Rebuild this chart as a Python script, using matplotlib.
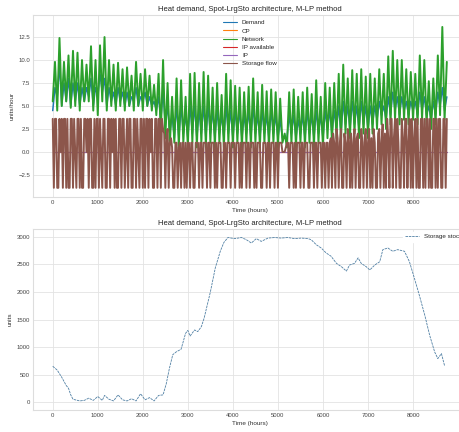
import numpy as np
import matplotlib
matplotlib.use("Agg")
import matplotlib.pyplot as plt
from matplotlib.ticker import FixedLocator
import seaborn as sns

# demand and network, read every 50 hours (0 .. 8750)
demand = [
    4.5, 7.0, 6.0, 9.5, 5.0, 7.5, 5.5, 8.0, 5.0, 7.5,
    5.5, 7.5, 5.0, 7.0, 5.5, 7.0, 6.0, 8.0, 5.0, 7.0,
    6.0, 8.5, 6.5, 8.0, 5.0, 7.0, 5.5, 6.5, 5.0, 7.0,
    5.5, 6.5, 5.0, 6.5, 5.0, 6.0, 5.5, 7.0, 5.0, 6.0,
    5.5, 6.5, 5.0, 6.0, 5.0, 5.5, 4.5, 6.0, 3.5, 6.5,
    3.0, 5.0, 2.0, 4.0, 1.5, 5.0, 1.5, 5.0, 2.0, 4.0,
    1.5, 5.0, 2.0, 5.0, 1.5, 4.5, 2.0, 5.0, 1.5, 5.0,
    2.0, 4.5, 1.5, 4.5, 2.0, 4.0, 1.5, 5.0, 2.0, 4.5,
    1.5, 4.5, 2.0, 4.5, 1.5, 4.0, 2.0, 4.5, 1.5, 5.0,
    2.0, 4.0, 1.5, 4.5, 2.0, 4.0, 1.5, 4.5, 2.0, 4.0,
    1.5, 3.5, 1.5, 1.5, 1.5, 4.0, 2.0, 4.0, 1.5, 3.5,
    2.0, 4.0, 1.5, 4.5, 2.0, 4.0, 1.5, 4.5, 2.0, 4.0,
    1.5, 4.5, 2.5, 4.5, 2.0, 4.5, 2.5, 5.0, 2.0, 5.5,
    3.0, 5.0, 2.5, 5.5, 3.0, 5.0, 2.5, 5.5, 3.0, 5.0,
    2.5, 5.0, 3.0, 5.0, 3.5, 5.5, 4.0, 5.0, 3.5, 6.0,
    4.0, 6.5, 4.5, 6.0, 4.0, 6.0, 4.5, 5.5, 4.0, 5.5,
    4.5, 5.5, 4.0, 6.5, 4.5, 6.0, 4.0, 5.0, 3.5, 5.5,
    4.0, 6.5, 5.0, 7.0, 4.5, 6.0,
]

network = [
    5.5, 9.8, 4.5, 12.4, 5.0, 9.8, 5.5, 10.5, 4.8, 11.0,
    5.0, 10.8, 4.5, 10.0, 5.5, 9.5, 5.5, 11.5, 4.5, 10.0,
    4.0, 11.6, 5.5, 12.5, 4.5, 10.0, 5.0, 9.5, 4.5, 9.7,
    5.0, 9.0, 4.5, 9.2, 5.0, 8.3, 4.5, 9.8, 5.0, 8.5,
    4.5, 9.0, 5.0, 8.3, 4.5, 7.3, 4.0, 8.5, 2.0, 10.0,
    1.5, 7.5, 0.8, 6.0, 1.0, 8.0, 0.5, 7.8, 1.0, 6.0,
    0.5, 8.5, 1.0, 8.6, 0.5, 7.5, 1.0, 8.7, 0.5, 8.3,
    1.0, 7.0, 0.5, 7.5, 1.0, 6.2, 0.5, 8.5, 1.0, 7.8,
    0.5, 7.2, 1.0, 7.0, 0.5, 6.5, 1.0, 7.1, 0.5, 8.0,
    1.0, 6.5, 0.5, 7.3, 1.0, 6.6, 0.5, 6.8, 1.0, 6.5,
    0.5, 5.8, 1.0, 2.0, 0.5, 6.5, 1.0, 6.8, 0.5, 6.0,
    1.0, 6.5, 0.5, 7.0, 1.0, 6.3, 0.5, 7.8, 1.0, 6.0,
    0.5, 7.5, 1.5, 7.0, 1.0, 7.5, 1.5, 8.5, 1.0, 9.5,
    2.0, 8.0, 1.5, 8.9, 2.0, 8.5, 1.5, 9.0, 2.0, 8.2,
    1.5, 8.5, 2.0, 8.0, 2.5, 9.0, 3.0, 8.5, 2.5, 10.4,
    3.0, 11.0, 3.5, 10.0, 3.0, 10.0, 3.5, 9.0, 3.0, 8.7,
    3.5, 8.5, 3.0, 10.5, 3.5, 10.0, 3.0, 7.7, 2.5, 8.0,
    3.0, 10.5, 4.0, 13.6, 3.5, 9.8,
]

# storage flow, read every 25 hours (0 .. 8750)
storage_flow = [
    3.6, -3.9, 3.6, 3.6, -3.9, -3.9, 3.6, 0.0, 3.6, -3.9, 3.6, 3.6, -3.9, 3.6, -3.9, -3.9, 3.6, 3.6, -3.9, 3.6,
    0.0, -3.9, 3.6, 3.6, -3.9, 3.6, -3.9, -3.9, 3.6, 3.6, 0.0, 3.6, -3.9, 3.6, 3.6, -3.9, -3.9, 3.6, -3.9, 3.6,
    3.6, -3.9, 3.6, 0.0, -3.9, 3.6, 3.6, -3.9, -3.9, 3.6, 3.6, -3.9, 3.6, 0.0, 3.6, -3.9, 3.6, -3.9, -3.9, 3.6,
    3.6, -3.9, 3.6, 3.6, -3.9, 0.0, 3.6, -3.9, 3.6, 3.6, -3.9, -3.9, 3.6, 3.6, -3.9, 3.6, 0.0, -3.9, 3.6, 3.6,
    -3.9, 3.6, -3.9, 3.6, 3.6, -3.9, 3.6, 0.0, 3.6, -3.9, -3.9, 3.6, 3.6, -3.9, 3.6, 3.6, -3.9, 3.6, 2.5, 2.0,
    -3.9, 1.5, 2.5, -3.9, 1.0, 1.5, 0.5, -3.9, -3.9, 1.0, 1.0, -3.9, 0.5, 1.0, -3.9, 1.0, 1.0, -3.9, 1.0, -3.9,
    1.0, 1.0, -3.9, 1.0, 1.0, -3.9, -3.9, 1.0, 1.0, 1.0, -3.9, 1.0, 1.0, -3.9, 1.0, 1.0, 1.0, -3.9, 1.0, 1.0,
    -3.9, 1.0, 1.0, 1.0, -3.9, 1.0, -3.9, 1.0, 1.0, 1.0, -3.9, -3.9, 1.0, 1.0, -3.9, 1.0, 1.0, 1.0, -3.9, 1.0,
    1.0, 1.0, -3.9, 1.0, 1.0, 1.0, -3.9, 1.0, -3.9, 1.0, 1.0, 1.0, -3.9, 1.0, 1.0, -3.9, 1.0, 1.0, 1.0, -3.9,
    1.0, -3.9, 1.0, 1.0, 1.0, -3.9, -3.9, 1.0, 1.0, 1.0, -3.9, 1.0, 1.0, -3.9, 1.0, 1.0, 1.0, -3.9, 1.0, 1.0,
    -3.9, 1.0, 1.0, 1.0, 0.0, 0.0, 0.0, 0.5, 1.0, 1.0, -3.9, 1.0, 1.0, 1.0, -3.9, 1.0, -3.9, 1.0, 1.0, 1.0,
    -3.9, 1.0, 1.0, -3.9, 1.0, 1.0, 1.0, -3.9, -3.9, 1.0, 1.0, 1.0, -3.9, 1.0, 1.0, -3.9, 1.0, 1.0, 1.0, -3.9,
    1.0, 1.0, -3.9, 1.0, 1.0, -3.9, 1.0, 1.5, -3.9, 2.0, 1.0, -3.9, 2.5, 1.5, -3.9, 1.0, 2.5, -3.9, -3.9, 2.0,
    1.0, -3.9, 2.5, 1.5, -3.9, 2.0, -3.9, 1.0, 2.5, -3.9, 1.5, 2.0, -3.9, -3.9, 2.5, 1.0, -3.9, 1.5, 2.5, -3.9,
    1.0, 2.5, -3.9, 1.5, -3.9, 2.5, 1.0, -3.9, -3.9, 2.0, 2.5, -3.9, 1.0, 3.0, -3.9, 2.0, -3.9, 3.6, 1.5, -3.9,
    3.6, 3.6, -3.9, 1.5, 3.6, -3.9, 3.6, 1.0, -3.9, -3.9, 3.6, 1.5, -3.9, 3.6, 3.6, -3.9, 1.0, 3.6, -3.9, 3.6,
    -3.9, 1.5, 3.6, -3.9, 3.6, -3.9, -3.9, 3.6, 3.6, -3.9, 3.6, -3.9, 3.6, 3.6, -3.9, 3.6, -3.9, -3.9, 3.6, 3.6,
    -3.9, 3.6, -3.9, 3.6, 3.6, -3.9, -3.9, 3.6, 3.6, -3.9, 3.6,
]

hours = np.arange(len(demand)) * 50
flow_hours = np.arange(len(storage_flow)) * 25
cp = [0.0] * len(hours)
ip_available = [0.0] * len(hours)
ip = [0.0] * len(hours)

# storage stock, read at irregular hours
stock_hours = [0, 100, 200, 300, 350, 400, 450, 500, 600, 700, 800, 900, 1000,
               1100, 1150, 1250, 1350, 1450, 1550, 1650, 1750, 1850, 1950,
               2050, 2150, 2250, 2350, 2450, 2520, 2590, 2665, 2740, 2850,
               2950, 3000, 3050, 3150, 3220, 3300, 3360, 3500, 3610, 3720,
               3800, 3890, 4040, 4190, 4300, 4410, 4520, 4630, 4780, 4930,
               5070, 5220, 5370, 5520, 5670, 5740, 5850, 5960, 6070, 6180,
               6300, 6410, 6520, 6590, 6700, 6780, 6850, 6960, 7040, 7150,
               7260, 7330, 7440, 7550, 7660, 7810, 7920, 8030, 8140, 8260,
               8370, 8480, 8550, 8630, 8700]
stock = [650, 580, 450, 300, 250, 130, 50, 40, 20, 30, 70, 30, 100,
         30, 120, 50, 20, 130, 40, 20, 60, 20, 150,
         40, 80, 20, 120, 130, 330, 610, 860, 910, 960,
         1250, 1300, 1200, 1310, 1280, 1370, 1520, 2000, 2440, 2740,
         2900, 2990, 2970, 2990, 2950, 2890, 2970, 2920, 2980, 2990,
         2980, 2990, 2970, 2980, 2970, 2950, 2860, 2800, 2710, 2650,
         2520, 2460, 2380, 2490, 2520, 2620, 2520, 2460, 2400, 2490,
         2550, 2770, 2800, 2740, 2770, 2740, 2550, 2250, 1940, 1580,
         1210, 910, 790, 880, 660]

x_ticks = [0, 1000, 2000, 3000, 4000, 5000, 6000, 7000, 8000]

sns.set_style("whitegrid")
plt.rcParams['font.family'] = ['Liberation Sans', 'DejaVu Sans']
plt.rcParams['axes.edgecolor'] = '#dddddd'
plt.rcParams['grid.color'] = '#e3e3e3'
plt.rcParams['xtick.color'] = '#444444'
plt.rcParams['ytick.color'] = '#444444'

title = 'Heat demand, Spot-LrgSto architecture, M-LP method'
W, H = 459, 432
fig = plt.figure(figsize=(W / 100, H / 100), dpi=100)

ax1 = fig.add_axes([33 / W, 1 - 197 / H, 434 / W, 182 / H])
ax1.plot(hours, demand, color='tab:blue', lw=1.1, label='Demand')
ax1.plot(hours, cp, color='tab:orange', lw=0.8, label='CP')
ax1.plot(hours, network, color='tab:green', lw=1.4, label='Network')
ax1.plot(hours, ip_available, color='tab:red', lw=0.8, label='IP available')
ax1.plot(hours, ip, color='tab:purple', lw=0.8, label='IP')
ax1.plot(flow_hours, storage_flow, color='tab:brown', lw=1.4, label='Storage flow')
ax1.set_xlim(-438, 9198)
ax1.set_ylim(-4.9, 14.9)
ax1.set_yticks([-2.5, 0, 2.5, 5, 7.5, 10, 12.5])
ax1.set_title(title, fontsize=5.5, pad=3, color='#222222')
ax1.set_xlabel('Time (hours)', fontsize=4.6, labelpad=2, color='#333333')
ax1.set_ylabel('units/hour', fontsize=4.6, labelpad=3, color='#333333')
leg1 = ax1.legend(loc='upper center', fontsize=4.5, frameon=False,
                  labelspacing=0.45, handlelength=2.2, borderaxespad=0.4)
for line in leg1.get_lines():
    line.set_linewidth(0.8)

ax2 = fig.add_axes([33 / W, 1 - 410 / H, 434 / W, 181 / H])
ax2.plot(stock_hours, stock, color='#4f7fa3', lw=0.6, ls=(0, (3, 1)),
         label='Storage stock')
ax2.set_xlim(-438, 9198)
ax2.set_ylim(-145, 3145)
ax2.set_title(title, fontsize=5.5, pad=3, color='#222222')
ax2.set_xlabel('Time (hours)', fontsize=4.6, labelpad=2, color='#333333')
ax2.set_ylabel('units', fontsize=4.6, labelpad=3, color='#333333')
ax2.legend(loc='upper right', fontsize=4.5, frameon=True, edgecolor='white',
           framealpha=1, handlelength=2.2, borderaxespad=0.4)

for ax in (ax1, ax2):
    ax.xaxis.set_major_locator(FixedLocator(x_ticks))
    ax.tick_params(labelsize=4.3, pad=2, length=0)
    ax.grid(True, lw=0.6)

fig.savefig('out.png', dpi=100)
